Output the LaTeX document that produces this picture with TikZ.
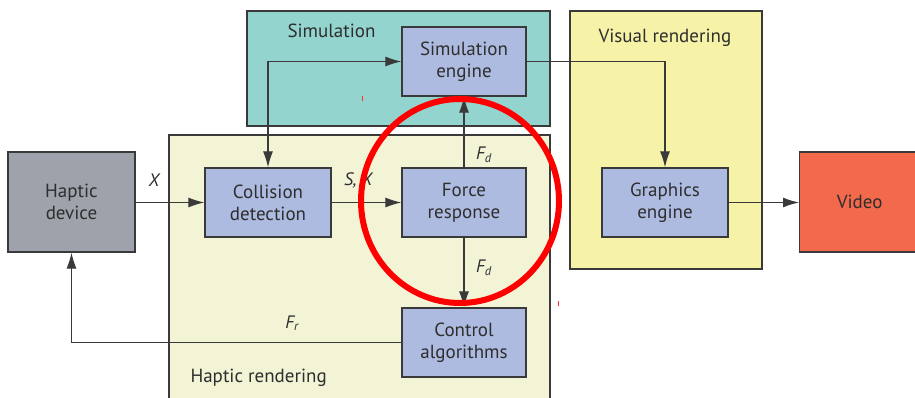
\documentclass[tikz,border=0pt]{standalone}
\usepackage{fontspec}
\setmainfont{PT Sans}
\usetikzlibrary{arrows.meta,positioning}
\definecolor{simbg}{HTML}{93D4CF}
\definecolor{hapbg}{HTML}{F3F3D6}
\definecolor{visbg}{HTML}{F6F3A9}
\definecolor{blockbg}{HTML}{AEBBE0}
\definecolor{devbg}{HTML}{9EA2AA}
\definecolor{vidbg}{HTML}{F2694B}
\definecolor{edge}{HTML}{3A3A3A}
\definecolor{ink}{HTML}{2E2E2E}
\tikzset{
  region/.style={draw=edge,line width=1.3pt},
  block/.style={draw=edge,line width=1.3pt,fill=blockbg,align=center,
    font=\fontsize{19}{22}\selectfont,text=ink,inner sep=0pt},
  tip/.tip={Latex[length=16pt,width=10pt]},
  flow/.style={draw=edge,line width=1.2pt,-tip},
  sig/.style={font=\fontsize{18}{20}\selectfont\itshape,text=ink},
  title/.style={font=\fontsize{19}{21}\selectfont,text=ink,anchor=west}
}
\begin{document}
\begin{tikzpicture}[x=1pt,y=-1pt]
\useasboundingbox (0,0) rectangle (915,398);
% group regions
\filldraw[region,fill=simbg] (247,11) rectangle (550,126);
\filldraw[region,fill=hapbg] (169,135) rectangle (550,405);
\filldraw[region,fill=visbg] (570,11) rectangle (762,269);
\node[title] (simtitle) at (284,31) {Simulation};
\node[title] (vistitle) at (595,38) {Visual rendering};
\node[title] (haptitle) at (187,378) {Haptic rendering};
% blocks
\node[block,fill=devbg,minimum width=127pt,minimum height=100pt] (dev) at (71.5,202) {Haptic\\device};
\node[block,minimum width=126pt,minimum height=69pt] (col) at (268,202.5) {Collision\\detection};
\node[block,minimum width=124pt,minimum height=69pt] (force) at (464,202.5) {Force\\response};
\node[block,minimum width=124pt,minimum height=69pt] (sim) at (464,61.5) {Simulation\\engine};
\node[block,minimum width=124pt,minimum height=69pt] (ctrl) at (464,342.5) {Control\\algorithms};
\node[block,minimum width=126pt,minimum height=69pt] (gfx) at (665,202.5) {Graphics\\engine};
\node[block,fill=vidbg,minimum width=120pt,minimum height=100pt,anchor=west] (vid) at (799,202) {Video};
% connectors
\coordinate (colup) at (col.north |- sim.west);
\coordinate (fbcorner) at (dev.south |- ctrl.west);
\coordinate (gfxcorner) at (gfx.north |- sim.east);
\draw[flow] (dev.east |- col.west) -- (col.west);
\draw[flow] (col.east) -- (force.west);
\draw[flow,tip-tip] (col.north) -- (colup) -- (sim.west);
\draw[flow] (force.north) -- (sim.south);
\draw[flow] (force.south) -- (ctrl.north);
\draw[flow] (ctrl.west) -- (fbcorner) -- (dev.south);
\draw[flow] (sim.east) -- (gfxcorner) -- (gfx.north);
\draw[flow] (gfx.east) -- (vid.west |- gfx.east);
% signal labels
\node[sig] (lx) at (154,180) {X};
\node[sig] (lsx) at (358,180) {S, X};
\node[sig] (lfd1) at (484,155) {F\textsubscript{d}};
\node[sig] (lfd2) at (484,268) {F\textsubscript{d}};
\node[sig] (lfr) at (292,323) {F\textsubscript{r}};
% highlight ring
\draw[red,line width=6pt] (460,201) ellipse [x radius=99pt,y radius=102pt];
\draw[red!80,line width=1pt] (362,96) -- (362,101);
\draw[red!80,line width=1pt] (558,301) -- (558,306);
\end{tikzpicture}
\end{document}
